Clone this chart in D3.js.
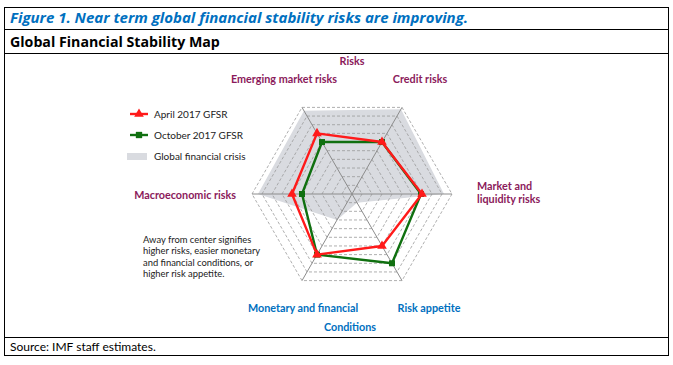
<!DOCTYPE html>
<html>
<head>
<meta charset="utf-8">
<script src="https://cdn.jsdelivr.net/npm/d3@7"></script>
<style>
  body { margin: 0; background: #fff; }
  text { font-family: Lato, "Open Sans", sans-serif; }
  .head { font-family: "Open Sans", "Noto Sans", sans-serif; }
</style>
</head>
<body>
<svg id="chart" width="673" height="365"></svg>
<script>
// axes, clockwise from the top-left spoke
var axes = ["Emerging market risks", "Credit risks", "Market and liquidity risks",
            "Risk appetite", "Monetary and financial", "Macroeconomic risks"];
var april2017 = [7, 6, 7, 6, 7, 6];
var october2017 = [6, 6, 6.9, 8, 7, 5];
var gfc = [9.6, 9.8, 9.2, 1, 3, 9.4];
var rings = d3.range(1, 11);
var noteLines = ["Away from center signifies", "higher risks, easier monetary",
                 "and financial conditions, or", "higher risk appetite."];

var svg = d3.select("#chart");
var cx = 352, cy = 194;

// frame
svg.append("rect").attr("x", 4.5).attr("y", 7.5).attr("width", 664).attr("height", 348)
    .attr("fill", "none").attr("stroke", "#000").attr("stroke-width", 1);
[29.5, 53.5, 337.5].forEach(function (y) {
    svg.append("line").attr("x1", 4.5).attr("x2", 668.5).attr("y1", y).attr("y2", y)
        .attr("stroke", "#000").attr("stroke-width", 1);
});
svg.append("text").attr("class", "head").attr("x", 10).attr("y", 23)
    .text("Figure 1. Near term global financial stability risks are improving.")
    .attr("font-size", 15).attr("font-weight", "bold").attr("font-style", "italic")
    .attr("fill", "#0070c0");
svg.append("text").attr("class", "head").attr("x", 10).attr("y", 47)
    .text("Global Financial Stability Map")
    .attr("font-size", 14.2).attr("font-weight", "bold").attr("fill", "#000");
svg.append("text").attr("x", 10).attr("y", 351)
    .text("Source: IMF staff estimates.")
    .attr("font-size", 12).attr("fill", "#000");

var r = d3.scaleLinear().domain([0, 10]).range([0, 100]);
var angle = d3.scalePoint().domain(d3.range(axes.length)).range([-Math.PI / 6, -Math.PI / 6 + 2 * Math.PI * 5 / 6]);

var radial = d3.lineRadial()
    .angle(function (d, i) { return angle(i); })
    .radius(function (d) { return r(d); })
    .curve(d3.curveLinearClosed);

var g = svg.append("g").attr("transform", "translate(" + cx + "," + cy + ")");

function pt(v, i) {
    var a = angle(i);
    return [r(v) * Math.sin(a), -r(v) * Math.cos(a)];
}

// crisis area
g.append("path").datum(gfc).attr("d", radial).attr("fill", "#d9dbe0").attr("stroke", "none");

// rings
g.selectAll(".ring").data(rings).enter().append("path")
    .attr("d", function (k) { return radial(axes.map(function () { return k; })); })
    .attr("fill", "none").attr("stroke", "#9a9a9a").attr("stroke-width", 0.8)
    .attr("stroke-dasharray", "3,2");

// spokes
g.selectAll(".spoke").data(axes).enter().append("line")
    .attr("x1", 0).attr("y1", 0)
    .attr("x2", function (d, i) { return pt(10, i)[0]; })
    .attr("y2", function (d, i) { return pt(10, i)[1]; })
    .attr("stroke", "#8c8c8c").attr("stroke-width", 1);

function series(values, color, symbolType, size) {
    g.append("path").datum(values).attr("d", radial)
        .attr("fill", "none").attr("stroke", color).attr("stroke-width", 2.4)
        .attr("stroke-linejoin", "round");
    g.selectAll(null).data(values).enter().append("path")
        .attr("d", d3.symbol().type(symbolType).size(size))
        .attr("transform", function (d, i) { var p = pt(d, i); return "translate(" + p[0] + "," + p[1] + ")"; })
        .attr("fill", color);
}
series(october2017, "#107010", d3.symbolSquare, 36);
series(april2017, "#ff1a1a", d3.symbolTriangle, 40);

// axis labels
var magenta = "#8b1a5b", blue = "#0070c0";
function label(x, y, t, anchor, color) {
    svg.append("text").attr("x", x).attr("y", y).text(t)
        .attr("text-anchor", anchor).attr("font-size", 10.8).attr("font-weight", "bold")
        .attr("fill", color);
}
label(cx, 65, "Risks", "middle", magenta);
label(284, 83, axes[0], "middle", magenta);
label(420, 83, axes[1], "middle", magenta);
label(477, 190, "Market and", "start", magenta);
label(477, 203, "liquidity risks", "start", magenta);
label(236, 199, axes[5], "end", magenta);
label(303, 312, axes[4], "middle", blue);
label(429, 312, axes[3], "middle", blue);
label(cx - 2, 331, "Conditions", "middle", blue);

// note
svg.append("g").selectAll("text").data(noteLines).enter().append("text")
    .attr("x", 143).attr("y", function (d, i) { return 243 + i * 11.4; })
    .text(function (d) { return d; })
    .attr("font-size", 9.4).attr("fill", "#222");

// legend
var legend = svg.append("g");
var legendItems = [
    {name: "April 2017 GFSR", color: "#ff1a1a", sym: d3.symbolTriangle, y: 114},
    {name: "October 2017 GFSR", color: "#107010", sym: d3.symbolSquare, y: 135}
];
legendItems.forEach(function (d) {
    legend.append("line").attr("x1", 130).attr("x2", 148).attr("y1", d.y).attr("y2", d.y)
        .attr("stroke", d.color).attr("stroke-width", 2.4);
    legend.append("path").attr("d", d3.symbol().type(d.sym).size(40))
        .attr("transform", "translate(139," + d.y + ")").attr("fill", d.color);
    legend.append("text").attr("x", 154).attr("y", d.y + 4).text(d.name)
        .attr("font-size", 10).attr("fill", "#222");
});
legend.append("rect").attr("x", 127).attr("y", 153).attr("width", 20).attr("height", 7)
    .attr("fill", "#d9dbe0");
legend.append("text").attr("x", 154).attr("y", 160).text("Global financial crisis")
    .attr("font-size", 10).attr("fill", "#222");
</script>
</body>
</html>
